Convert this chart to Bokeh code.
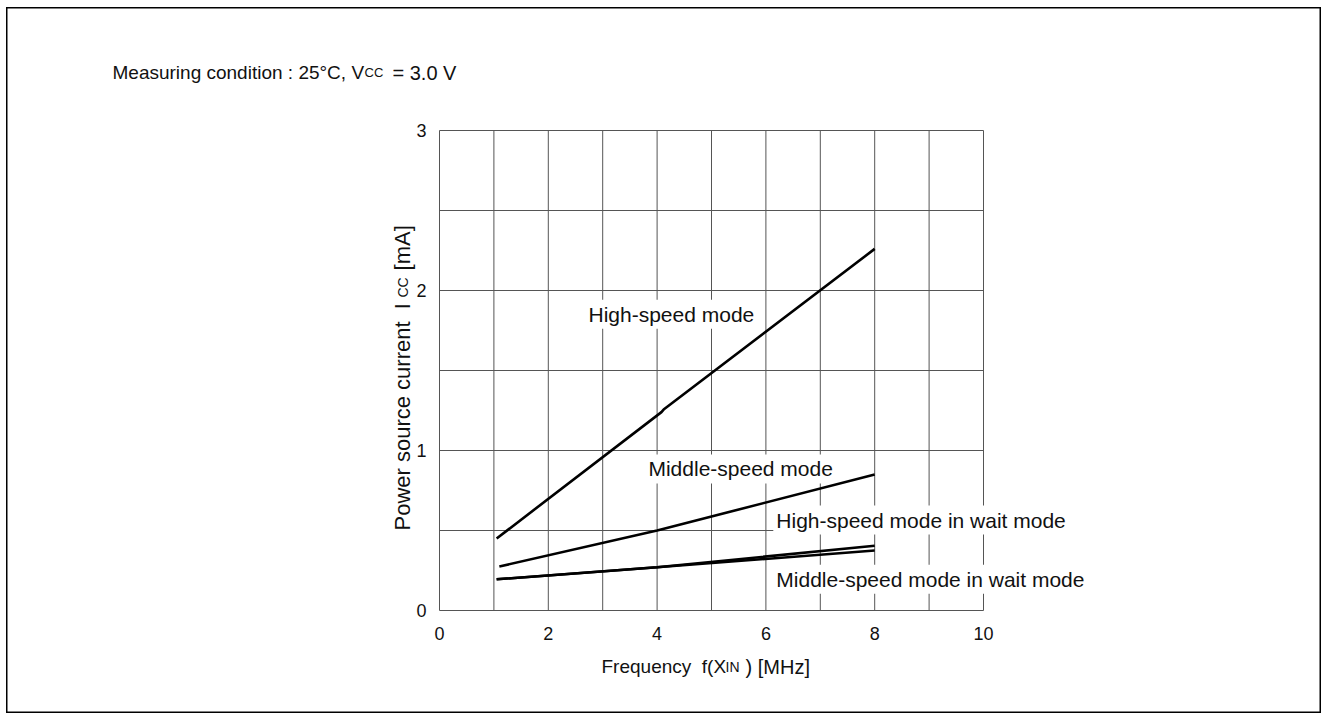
import math
from bokeh.plotting import figure
from bokeh.models import Label, FixedTicker, Range1d, LinearAxis
from bokeh.embed import file_html
from bokeh.resources import INLINE

# ---- data ----
freq_high = [1.05, 4.08, 4.12, 8.0]
icc_high = [0.45, 1.24, 1.256, 2.26]
freq_mid = [1.1, 4.0, 8.0]
icc_mid = [0.275, 0.5, 0.85]
freq_high_wait = [1.05, 4.0, 8.0]
icc_high_wait = [0.195, 0.27, 0.405]
freq_mid_wait = [1.05, 4.0, 8.0]
icc_mid_wait = [0.195, 0.27, 0.375]
x_ticks = [0, 2, 4, 6, 8, 10]
y_ticks = [0, 1, 2, 3]
x_grid = [0, 1, 2, 3, 4, 5, 6, 7, 8, 9, 10]
y_grid = [0, 0.5, 1, 1.5, 2, 2.5, 3]

FONT = "Liberation Sans"
TXT = "#111111"
NB = "\u00a0"

# frame covers the whole canvas; plot box 0..10 x 0..3 sits inside it
W, H = 1315, 706
PX_X, PX_Y = 54.4, 160.0
LEFT, BOTTOM = 433, 103
p = figure(width=W, height=H, output_backend="svg", toolbar_location=None,
           x_range=Range1d(-LEFT / PX_X, (W - LEFT) / PX_X),
           y_range=Range1d(-BOTTOM / PX_Y, (H - BOTTOM) / PX_Y),
           x_axis_location=None, y_axis_location=None,
           min_border=0)
p.margin = (7, 0, 0, 6)
p.outline_line_color = "#000000"
p.outline_line_width = 2
p.xgrid.visible = False
p.ygrid.visible = False

# grid / plot box from the tick arrays
gc = "#555555"
p.segment(x0=x_grid, y0=[y_grid[0]] * len(x_grid), x1=x_grid, y1=[y_grid[-1]] * len(x_grid),
          line_color=gc, line_width=1)
p.segment(x0=[x_grid[0]] * len(y_grid), y0=y_grid, x1=[x_grid[-1]] * len(y_grid), y1=y_grid,
          line_color=gc, line_width=1)

xa = LinearAxis(fixed_location=0, ticker=FixedTicker(ticks=x_ticks))
ya = LinearAxis(fixed_location=0, ticker=FixedTicker(ticks=y_ticks))
for ax in (xa, ya):
    ax.axis_line_color = None
    ax.major_tick_line_color = None
    ax.minor_tick_line_color = None
    ax.major_tick_out = 0
    ax.major_tick_in = 0
    ax.major_label_text_font = FONT
    ax.major_label_text_font_size = "18px"
    ax.major_label_text_color = TXT
xa.major_label_standoff = 16
ya.major_label_standoff = 13
p.add_layout(xa, "below")
p.add_layout(ya, "left")

lw = 2.6
for xs, ys in ((freq_high, icc_high), (freq_mid, icc_mid),
               (freq_high_wait, icc_high_wait), (freq_mid_wait, icc_mid_wait)):
    p.line(xs, ys, line_color="black", line_width=lw, level="overlay")

def lab(x, y, text, size="21px", bg=None, align="left", baseline="middle", angle=0.0):
    kw = {}
    if bg:
        kw = dict(background_fill_color=bg, padding=3)
    p.add_layout(Label(x=x, y=y, text=text, text_font=FONT, text_font_size=size,
                       text_color=TXT, text_align=align, text_baseline=baseline,
                       angle=angle, **kw))

# curve labels
lab(2.684, 1.852, "High-speed mode", bg="white")
lab(3.786, 0.885, "Middle-speed mode", bg="white")
lab(6.136, 0.565, "High-speed mode in wait mode", bg="white")
lab(6.136, 0.196, "Middle-speed mode in wait mode", bg="white")

# condition line
ty = (610 - 72) / PX_Y
lab((112 - 439) / PX_X, ty, "Measuring condition : 25°C, V", size="19px", baseline="alphabetic")
lab((364 - 439) / PX_X, ty, "CC", size="13px", baseline="alphabetic")
lab((392 - 439) / PX_X, ty, "= 3.0 V", size="20px", baseline="alphabetic")

# x axis label
xy = (610 - 666) / PX_Y
lab((601 - 439) / PX_X, xy, "Frequency" + NB + " f(X", size="19px", baseline="alphabetic")
lab((725 - 439) / PX_X, xy, "IN", size="14px", baseline="alphabetic")
lab((745 - 439) / PX_X, xy, ") [MHz]", size="20px", baseline="alphabetic")

# y axis label
a = math.pi / 2
yx = (402 - 439) / PX_X
lab(yx, (610 - 530) / PX_Y, "Power source current" + NB + " I", size="22px", baseline="alphabetic", angle=a)
lab(yx, (610 - 297) / PX_Y, "CC", size="14px", baseline="alphabetic", angle=a)
lab(yx, (610 - 276) / PX_Y, NB + "[mA]", size="22px", baseline="alphabetic", angle=a)

open("out.html", "w").write(file_html(p, INLINE))
